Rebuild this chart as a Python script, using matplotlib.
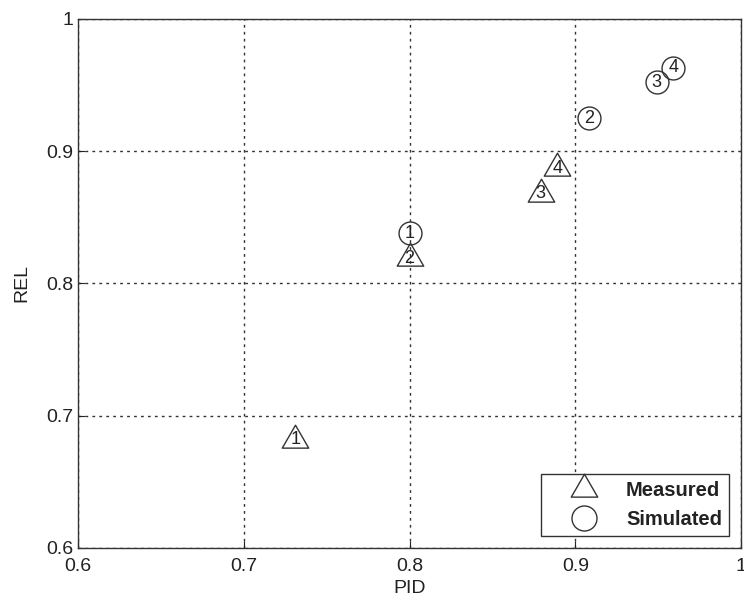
import matplotlib
matplotlib.use("Agg")
import matplotlib.pyplot as plt
from matplotlib.ticker import FuncFormatter
from matplotlib.lines import Line2D
from matplotlib.path import Path

plt.rcParams['font.family'] = ['Liberation Sans', 'DejaVu Sans']

meas_pid = [0.731, 0.800, 0.879, 0.889]
meas_rel = [0.682, 0.819, 0.868, 0.887]
meas_lab = ['1', '2', '3', '4']
sim_pid = [0.800, 0.908, 0.949, 0.959]
sim_rel = [0.838, 0.925, 0.952, 0.963]
sim_lab = ['1', '2', '3', '4']
ticks = [0.6, 0.7, 0.8, 0.9, 1.0]

fig = plt.figure(figsize=(7.44, 6.01), dpi=100)
ax = fig.add_axes([0.1048, 0.0882, 0.8915, 0.8802])

tri = Path([(-1, -0.5774), (1, -0.5774), (0, 1.1547), (-1, -0.5774)],
           [Path.MOVETO, Path.LINETO, Path.LINETO, Path.CLOSEPOLY])
ec = '#333333'
ax.plot(meas_pid, meas_rel, linestyle='none', marker=tri, markersize=22,
        markerfacecolor='none', markeredgecolor=ec, markeredgewidth=1.0, zorder=3)
ax.plot(sim_pid, sim_rel, linestyle='none', marker='o', markersize=16.5,
        markerfacecolor='none', markeredgecolor=ec, markeredgewidth=1.0, zorder=3)
for x, y, t in zip(meas_pid, meas_rel, meas_lab):
    ax.text(x, y, t, ha='center', va='center', fontsize=13, color='#222222', zorder=4)
for x, y, t in zip(sim_pid, sim_rel, sim_lab):
    ax.text(x, y, t, ha='center', va='center', fontsize=13, color='#222222', zorder=4)

ax.set_xlim(0.6, 1.0)
ax.set_ylim(0.6, 1.0)
ax.set_xticks(ticks)
ax.set_yticks(ticks)
fmt = FuncFormatter(lambda v, p: '%g' % round(v, 3))
ax.xaxis.set_major_formatter(fmt)
ax.yaxis.set_major_formatter(fmt)
ax.tick_params(direction='in', length=5, labelsize=14, colors='#222222')
ax.tick_params(axis='x', pad=7)
ax.grid(True, color='#333333', linestyle=(0, (2, 3)), linewidth=1.0)
for s in ax.spines.values():
    s.set_color('#333333')
    s.set_linewidth(1.0)

ax.set_xlabel('PID', fontsize=14, color='#222222', labelpad=4)
ax.set_ylabel('REL', fontsize=14, color='#222222', labelpad=11)

handles = [
    Line2D([], [], linestyle='none', marker=tri, markersize=22, markerfacecolor='none',
           markeredgecolor=ec, markeredgewidth=1.0),
    Line2D([], [], linestyle='none', marker='o', markersize=18, markerfacecolor='none',
           markeredgecolor=ec, markeredgewidth=1.0),
]
leg = ax.legend(handles, ['Measured', 'Simulated'], loc='lower right', fancybox=False,
                framealpha=1, edgecolor='#333333', fontsize=14.5, borderaxespad=0.6,
                handlelength=3.6, handletextpad=0.3, labelspacing=0.5, borderpad=0.35)
leg.get_frame().set_linewidth(1.0)
for t in leg.get_texts():
    t.set_fontweight('bold')
    t.set_color('#222222')

fig.savefig('out.png', dpi=100)
